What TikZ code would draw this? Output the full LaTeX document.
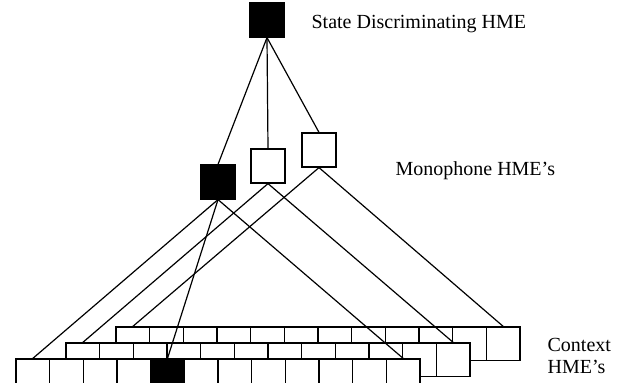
\documentclass[tikz,border=0pt]{standalone}
\usepackage{fontspec}
\setmainfont{Liberation Serif}
\usetikzlibrary{positioning}

\begin{document}
\begin{tikzpicture}[x=1pt, y=-1pt, line width=1.2pt]
        \tikzstyle{hme}=[draw=black,fill=white,inner sep=0pt,minimum size=34pt]
        \tikzstyle{ctx}=[draw=black,fill=white,inner sep=0pt,minimum size=33.67pt]
        \tikzstyle{lbl}=[anchor=base west,inner sep=0pt,font=\fontsize{20}{22}\selectfont]

        \useasboundingbox (0,0) rectangle (625,383);
        \clip (0,0) rectangle (625,383);

        % top and monophone level
        \node[hme,fill=black]   (sd)    at (267,20)     {};
        \node[hme,fill=black]   (m0)    at (218,182)    {};
        \node[hme]              (m1)    at (268,166)    {};
        \node[hme]              (m2)    at (319,150)    {};

        % context rows, back row first
        \foreach \r in {3,2,1}
            \foreach \i in {0,...,11}
                \node[ctx] (c\r-\i) at ({32.83+50*(\r-1)+33.67*\i},{375.83-16*(\r-1)}) {};
        \node[ctx,fill=black] at (c1-4) {};

        \path
            (sd.south) edge (m0.north)
            (sd.south) edge (m1.north)
            (sd.south) edge (m2.north)
            (m0.south) edge (c1-0.north)
            (m0.south) edge (c1-4.north)
            (m0.south) edge (c1-11.north)
            (m1.south) edge (c2-0.north)
            (m1.south) edge (c2-11.north)
            (m2.south) edge (c3-0.north)
            (m2.south) edge (c3-11.north)
        ;

        \node[lbl] (sdlbl)  at (311,28)     {State Discriminating HME};
        \node[lbl] (mlbl)   at (395,175)    {Monophone HME’s};
        \node[lbl] (clbl)   at (547,351)    {Context};
        \node[lbl] (clbl2)  at (547,373)    {HME’s};
    \end{tikzpicture}
\end{document}
